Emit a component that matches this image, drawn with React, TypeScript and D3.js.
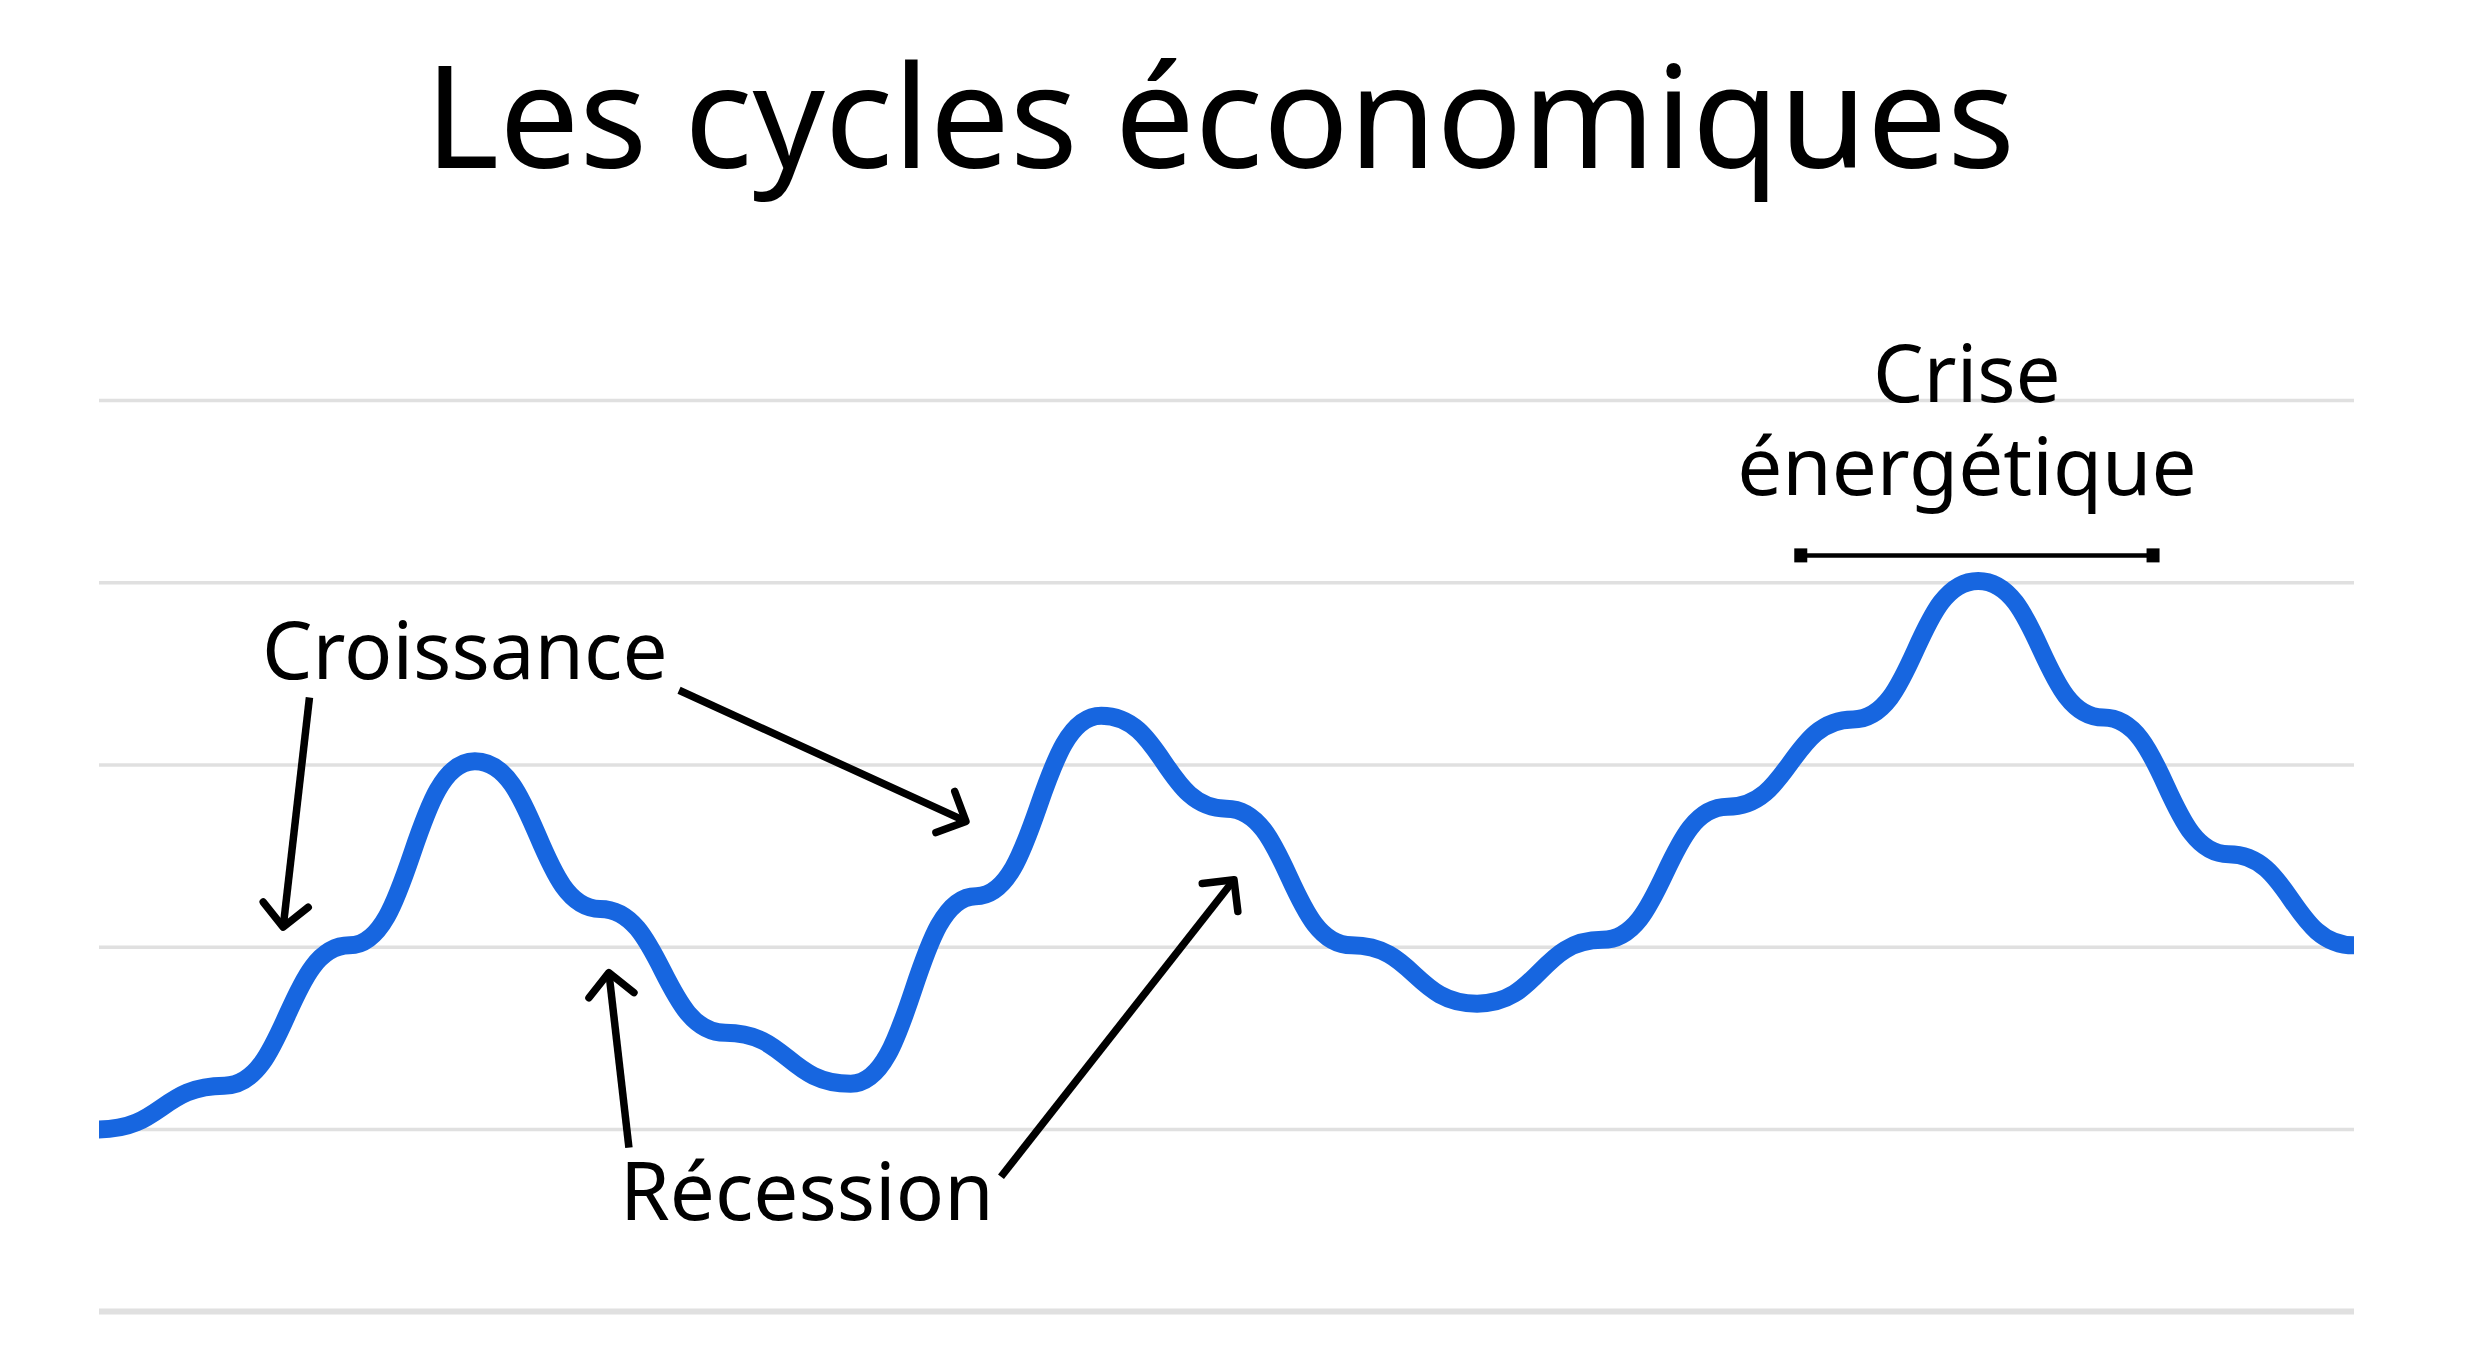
import React from "react";
import * as d3 from "d3";

const W = 2466;
const H = 1347;

// series: economic activity index at evenly spaced periods
const periods = d3.range(19);
const activity = [1.0, 1.24, 2.01, 3.02, 2.21, 1.53, 1.25, 2.28, 3.27, 2.76, 2.01, 1.69, 2.04, 2.77, 3.25, 4.01, 3.26, 2.51, 2.01];
const gridValues = [0, 1, 2, 3, 4, 5];

// annotations in data units [fromPeriod, fromValue, toPeriod, toValue]
const arrows: [number, number, number, number][] = [
  [1.68, 3.37, 1.47, 2.11],
  [4.63, 3.41, 6.92, 2.69],
  [4.23, 0.9, 4.07, 1.86],
  [7.2, 0.74, 9.06, 2.37],
];
const labels: { lines: string[]; x: number; y: number }[] = [
  { lines: ["Croissance"], x: 2.92, y: 3.47 },
  { lines: ["Récession"], x: 5.65, y: 0.5 },
  { lines: ["Crise", "énergétique"], x: 14.91, y: 4.99 },
];
const crisisSpan = [13.58, 16.4, 4.15];

const FONT = "'Noto Sans', 'Open Sans', sans-serif";

export default function App() {
  const x = d3.scaleLinear().domain([0, 18]).range([99, 2354]);
  const y = d3.scaleLinear().domain([0, 5]).range([1311.6, 400.5]);
  const line = d3
    .line<number>()
    .x((_, i) => x(periods[i]))
    .y((d) => y(d))
    .curve(d3.curveBumpX);

  const headLen = 32;
  const headAng = (45 * Math.PI) / 180;

  return (
    <svg width={W} height={H} style={{ position: "absolute", left: 0, top: 0, background: "#fff" }}>
      <rect width={W} height={H} fill="#fff" />
      {gridValues.map((g) => (
        <line
          key={g}
          x1={x(0)}
          x2={x(18)}
          y1={y(g)}
          y2={y(g)}
          stroke="#e0e0e0"
          strokeWidth={g === 0 ? 6 : 3.5}
        />
      ))}
      <text x={1220} y={168} textAnchor="middle" fontFamily={FONT} fontSize={142} fill="#000">
        Les cycles économiques
      </text>
      <path d={line(activity) || ""} fill="none" stroke="#1766e0" strokeWidth={18} strokeLinecap="butt" />
      {arrows.map(([x0, y0, x1, y1], i) => {
        const ax = x(x0), ay = y(y0), bx = x(x1), by = y(y1);
        const back = Math.atan2(ay - by, ax - bx);
        const w1 = [bx + headLen * Math.cos(back + headAng), by + headLen * Math.sin(back + headAng)];
        const w2 = [bx + headLen * Math.cos(back - headAng), by + headLen * Math.sin(back - headAng)];
        return (
          <g key={i} stroke="#000" strokeWidth={7.5} fill="none" strokeLinecap="round" strokeLinejoin="round">
            <line x1={ax} y1={ay} x2={bx} y2={by} strokeLinecap="butt" />
            <path d={`M${w1[0]},${w1[1]}L${bx},${by}L${w2[0]},${w2[1]}`} />
          </g>
        );
      })}
      {labels.map((l) => (
        <text key={l.lines[0]} x={x(l.x)} y={y(l.y)} textAnchor="middle" fontFamily={FONT} fontSize={80} fill="#000">
          {l.lines.map((t, i) => (
            <tspan key={t} x={x(l.x)} dy={i === 0 ? 0 : 93}>
              {t}
            </tspan>
          ))}
        </text>
      ))}
      <g>
        <line
          x1={x(crisisSpan[0])}
          x2={x(crisisSpan[1])}
          y1={y(crisisSpan[2])}
          y2={y(crisisSpan[2])}
          stroke="#000"
          strokeWidth={4.5}
        />
        <rect x={x(crisisSpan[0]) - 6} y={y(crisisSpan[2]) - 7} width={13} height={14} fill="#000" />
        <rect x={x(crisisSpan[1]) - 7} y={y(crisisSpan[2]) - 7} width={13} height={14} fill="#000" />
      </g>
    </svg>
  );
}
